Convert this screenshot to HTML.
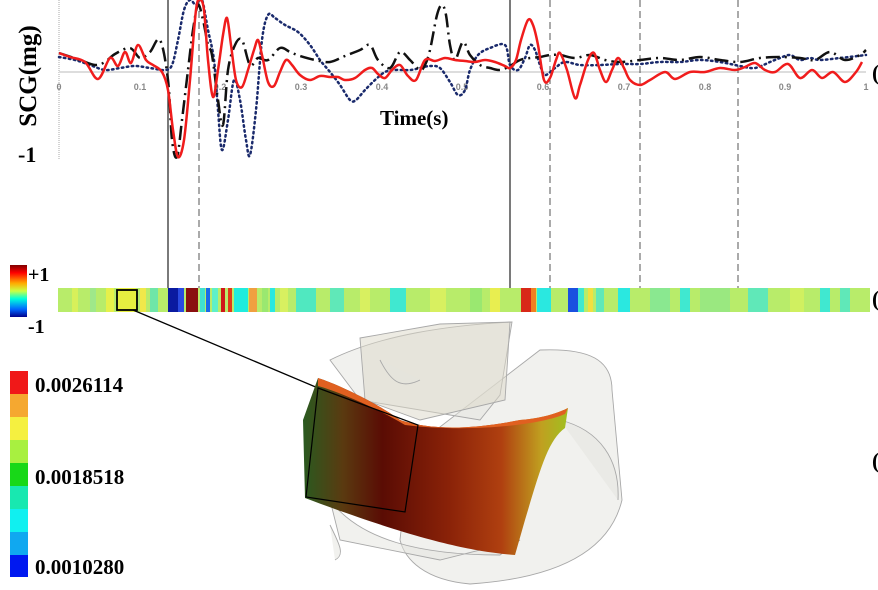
<!DOCTYPE html>
<html><head><meta charset="utf-8"><style>
html,body{margin:0;padding:0;background:#fff;}
svg{display:block;}
.b{font-family:"Liberation Serif",serif;font-weight:bold;fill:#000;}
.t{font-family:"Liberation Sans",sans-serif;font-size:9px;fill:#888;font-weight:bold;}
</style></head><body>
<svg id="s" width="878" height="590" viewBox="0 0 878 590" xmlns="http://www.w3.org/2000/svg">
<line x1="59" y1="0" x2="59" y2="160" stroke="#aaa" stroke-width="1" stroke-dasharray="1,1"/>
<line x1="59" y1="72" x2="866" y2="72" stroke="#ddd" stroke-width="2"/>
<g class="t" text-anchor="middle">
<text x="59" y="90">0</text><text x="140" y="90">0.1</text><text x="220" y="90">0.2</text><text x="301" y="90">0.3</text><text x="382" y="90">0.4</text><text x="462" y="90">0.5</text><text x="543" y="90">0.6</text><text x="624" y="90">0.7</text><text x="705" y="90">0.8</text><text x="785" y="90">0.9</text><text x="866" y="90">1</text>
</g>
<text class="b" font-size="25" transform="translate(36,76) rotate(-90)" text-anchor="middle">SCG(mg)</text>
<text class="b" font-size="22" x="18" y="162">-1</text>
<text class="b" font-size="21" x="380" y="125">Time(s)</text>
<text class="b" font-size="22" x="872" y="80">(</text>
<text class="b" font-size="22" x="872" y="306">(</text>
<text class="b" font-size="22" x="872" y="468">(</text>
<g stroke="#333" stroke-width="1.3">
<line x1="168" y1="0" x2="168" y2="288"/><line x1="510" y1="0" x2="510" y2="288"/>
</g>
<g stroke="#555" stroke-width="1" stroke-dasharray="7,4">
<line x1="199" y1="0" x2="199" y2="288"/><line x1="550" y1="0" x2="550" y2="288"/><line x1="640" y1="0" x2="640" y2="288"/><line x1="738" y1="0" x2="738" y2="288"/>
</g>
<polyline class="sm" fill="none" stroke="#1a2a6c" stroke-width="2.5" stroke-dasharray="1.5,3.5" stroke-linecap="round" stroke-linejoin="round" points="59,57 75,60 90,65 105,70 120,68 135,66 150,68 165,70 172,65 178,40 184,10 190,0 196,5 202,0 208,30 214,60 218,110 222,150 228,120 234,80 240,100 246,140 250,155 256,110 262,40 268,15 275,18 285,25 298,32 310,45 320,60 330,72 340,85 350,100 356,100 365,90 375,80 385,72 395,70 410,70 420,68 430,66 440,68 450,82 458,95 465,90 470,70 478,55 490,48 505,45 510,65 518,70 525,58 530,45 535,50 540,65 545,75 555,68 565,62 580,65 600,65 620,64 640,64 660,62 680,62 700,60 720,62 740,66 755,68 770,62 780,58 790,55 800,60 810,58 820,60 840,58 866,55"/>
<polyline class="sm" fill="none" stroke="#111" stroke-width="2.5" stroke-dasharray="14,5,2,5" stroke-linejoin="round" points="59,53 80,60 95,65 105,62 115,54 130,48 140,58 150,52 160,40 168,80 172,140 177,157 182,120 188,70 193,30 198,5 203,20 208,45 212,55 218,100 223,125 228,70 235,45 242,40 250,65 258,58 268,60 280,48 290,52 300,56 315,60 330,62 345,56 360,50 370,45 378,60 390,68 400,52 410,60 420,70 425,65 430,50 437,15 442,5 446,15 450,45 455,60 463,42 470,55 480,65 490,68 500,70 510,66 520,60 530,58 540,57 550,55 560,55 575,58 590,55 605,60 620,62 640,60 660,58 680,60 700,57 720,60 740,62 760,58 780,57 800,58 815,60 830,52 845,60 860,55 866,50"/>
<polyline class="sm" fill="none" stroke="#f01c1c" stroke-width="2.5" stroke-linejoin="round" points="59,53 70,57 85,62 98,79 110,58 118,66 125,52 131,63 138,45 146,60 153,65 162,72 168,90 173,130 178,157 184,140 190,80 196,10 200,0 204,10 208,60 213,97 218,70 223,35 227,18 231,45 236,80 242,87 248,70 254,50 258,40 262,55 268,82 274,86 280,72 286,60 292,65 300,75 310,80 320,76 330,77 338,77 345,80 355,78 365,70 372,68 378,74 385,78 392,70 400,65 408,76 416,80 425,60 435,61 445,58 455,60 465,61 475,62 485,60 495,62 505,66 510,68 516,60 521,40 528,20 533,25 538,45 544,80 550,78 556,60 560,53 567,70 575,98 580,85 588,60 594,53 600,70 606,82 612,70 618,58 624,68 630,80 640,85 650,80 665,72 675,79 690,72 705,72 720,68 735,70 745,67 755,63 765,70 775,72 788,64 800,78 812,70 822,78 833,72 845,82 856,72 862,62"/>
<defs>
<linearGradient id="jet" x1="0" y1="0" x2="0" y2="1">
<stop offset="0" stop-color="#800000"/><stop offset="0.15" stop-color="#f00"/><stop offset="0.35" stop-color="#fa0"/><stop offset="0.5" stop-color="#cf4"/><stop offset="0.65" stop-color="#0fd"/><stop offset="0.85" stop-color="#06f"/><stop offset="1" stop-color="#00008a"/>
</linearGradient>
<linearGradient id="pan" x1="0" y1="0" x2="1" y2="0">
<stop offset="0" stop-color="#2a5a20"/><stop offset="0.15" stop-color="#5a3a10"/><stop offset="0.3" stop-color="#5a0c04"/><stop offset="0.55" stop-color="#8a2208"/><stop offset="0.75" stop-color="#b04010"/><stop offset="0.9" stop-color="#c0a020"/><stop offset="1" stop-color="#a0c020"/>
</linearGradient>
</defs>
<rect x="10" y="265" width="17" height="52" fill="url(#jet)"/>
<text class="b" font-size="20" x="28" y="281">+1</text>
<text class="b" font-size="20" x="28" y="333">-1</text>
<rect x="58" y="288" width="812" height="24" fill="#b8ec6a"/>
<g>
<rect x="72" y="288" width="6" height="24" fill="#d8f05a"/><rect x="90" y="288" width="6" height="24" fill="#9fe88a"/><rect x="106" y="288" width="8" height="24" fill="#e6f04a"/><rect x="118" y="288" width="18" height="24" fill="#e6ee40"/><rect x="140" y="288" width="6" height="24" fill="#f0e84a"/><rect x="150" y="288" width="8" height="24" fill="#6fe6a8"/>
<rect x="168" y="288" width="10" height="24" fill="#0a1aa0"/><rect x="178" y="288" width="6" height="24" fill="#2a4ae0"/><rect x="186" y="288" width="12" height="24" fill="#8a0f0f"/><rect x="200" y="288" width="5" height="24" fill="#40e0d0"/><rect x="206" y="288" width="4" height="24" fill="#1a6ae8"/><rect x="212" y="288" width="6" height="24" fill="#5ef0c8"/>
<rect x="221" y="288" width="4" height="24" fill="#d01818"/><rect x="228" y="288" width="4" height="24" fill="#e03a1a"/><rect x="234" y="288" width="14" height="24" fill="#20ecde"/><rect x="249" y="288" width="8" height="24" fill="#f0a040"/><rect x="262" y="288" width="6" height="24" fill="#9ae870"/><rect x="270" y="288" width="5" height="24" fill="#2ae8e0"/><rect x="280" y="288" width="8" height="24" fill="#d8f060"/>
<rect x="296" y="288" width="20" height="24" fill="#50e8c0"/><rect x="330" y="288" width="14" height="24" fill="#60e8b8"/><rect x="360" y="288" width="10" height="24" fill="#d8f060"/><rect x="390" y="288" width="16" height="24" fill="#40e8d0"/><rect x="430" y="288" width="16" height="24" fill="#d8f060"/><rect x="470" y="288" width="12" height="24" fill="#9ae870"/><rect x="490" y="288" width="10" height="24" fill="#e8ee50"/>
<rect x="521" y="288" width="10" height="24" fill="#d82818"/><rect x="531" y="288" width="5" height="24" fill="#f08020"/><rect x="537" y="288" width="14" height="24" fill="#2ae8e0"/><rect x="568" y="288" width="10" height="24" fill="#1a50e0"/><rect x="578" y="288" width="6" height="24" fill="#40e8d0"/><rect x="588" y="288" width="5" height="24" fill="#f0e040"/><rect x="596" y="288" width="8" height="24" fill="#60e8b8"/>
<rect x="618" y="288" width="12" height="24" fill="#2ae8e0"/><rect x="650" y="288" width="20" height="24" fill="#8ae890"/><rect x="680" y="288" width="10" height="24" fill="#40e8d0"/><rect x="700" y="288" width="30" height="24" fill="#9ae880"/><rect x="748" y="288" width="20" height="24" fill="#60e8b8"/><rect x="790" y="288" width="14" height="24" fill="#d0f060"/><rect x="820" y="288" width="10" height="24" fill="#40e8d0"/><rect x="840" y="288" width="10" height="24" fill="#60e8b8"/>
</g>
<rect x="117" y="290" width="20" height="20" fill="none" stroke="#000" stroke-width="1.8"/>
<line x1="133" y1="310" x2="318" y2="388" stroke="#000" stroke-width="1.3"/>
<g>
<rect x="10" y="371" width="18" height="23" fill="#f01818"/><rect x="10" y="394" width="18" height="23" fill="#f5a830"/><rect x="10" y="417" width="18" height="23" fill="#f5f040"/><rect x="10" y="440" width="18" height="23" fill="#a8f040"/><rect x="10" y="463" width="18" height="23" fill="#18d818"/><rect x="10" y="486" width="18" height="23" fill="#18e8b0"/><rect x="10" y="509" width="18" height="23" fill="#10f0f0"/><rect x="10" y="532" width="18" height="23" fill="#10a8f0"/><rect x="10" y="555" width="18" height="22" fill="#0018f0"/>
</g>
<text class="b" font-size="21" x="35" y="392">0.0026114</text>
<text class="b" font-size="21" x="35" y="484">0.0018518</text>
<text class="b" font-size="21" x="35" y="574">0.0010280</text>
<g fill="#e4e4de" fill-opacity="0.5" stroke="#a8a8a8" stroke-width="0.9">
<path d="M540,350 C590,348 612,360 612,390 L622,500 C610,550 560,578 470,584 C425,580 405,560 400,540 L410,450 Z"/>
<path d="M330,360 C380,335 450,325 512,322 L500,395 L480,420 L360,400 Z"/>
<path d="M360,338 L440,324 L510,322 L505,400 L420,420 L365,400 Z" fill="#dcd8c8"/>
<path d="M330,500 C360,540 420,555 500,555 L520,540 L440,560 L340,540 Z"/>
<path d="M560,420 C600,430 620,460 618,500 M380,360 C390,380 400,390 420,380 M330,525 C340,545 345,555 335,560"/>
</g>
<path d="M318,378 C340,385 380,405 400,420 C430,430 470,430 520,420 C545,418 560,412 568,408 L565,428 C548,440 540,470 525,520 L515,555 C480,552 430,545 305,498 L303,420 Z" fill="url(#pan)"/>
<path d="M318,378 C340,385 380,405 400,420 C430,430 470,430 520,420 C545,418 560,412 568,408 L565,414 C540,425 470,433 405,425 C380,410 340,392 318,386 Z" fill="#e06020"/>
<polygon points="318,388 418,425 405,512 306,497" fill="none" stroke="#000" stroke-width="1.2"/>
</svg>
<script>
(function(){
var ns="http://www.w3.org/2000/svg";
document.querySelectorAll("polyline.sm").forEach(function(pl){
 var p=pl.getAttribute("points").trim().split(/\s+/).map(function(s){return s.split(",").map(Number);});
 var d="M"+p[0][0]+","+p[0][1];
 for(var i=0;i<p.length-1;i++){
  var p0=p[i-1]||p[i],p1=p[i],p2=p[i+1],p3=p[i+2]||p2;
  var c1=[p1[0]+(p2[0]-p0[0])/6,p1[1]+(p2[1]-p0[1])/6],c2=[p2[0]-(p3[0]-p1[0])/6,p2[1]-(p3[1]-p1[1])/6];
  d+=" C"+c1[0].toFixed(1)+","+c1[1].toFixed(1)+" "+c2[0].toFixed(1)+","+c2[1].toFixed(1)+" "+p2[0]+","+p2[1];
 }
 var path=document.createElementNS(ns,"path");
 for(var k=0;k<pl.attributes.length;k++){var a=pl.attributes[k];if(a.name!="points"&&a.name!="class")path.setAttribute(a.name,a.value);}
 path.setAttribute("d",d);
 pl.parentNode.replaceChild(path,pl);
});
})();
</script>
</body></html>
